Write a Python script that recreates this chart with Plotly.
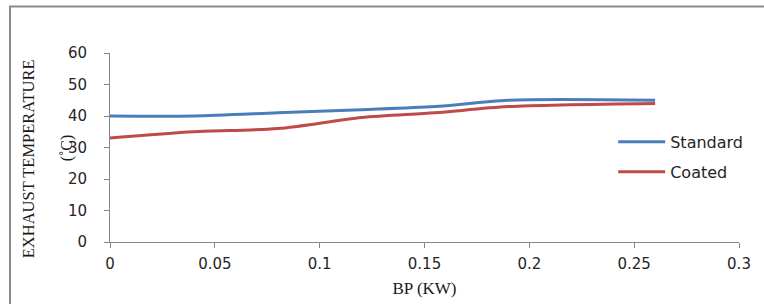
import plotly.graph_objects as go

bp_kw = [0, 0.04, 0.08, 0.12, 0.155, 0.19, 0.26]
standard = [40, 40, 41, 42, 43, 45, 45]
coated = [33, 35, 36, 39.5, 41, 43, 44]
x_ticks = [0, 0.05, 0.1, 0.15, 0.2, 0.25, 0.3]
y_ticks = [0, 10, 20, 30, 40, 50, 60]

fig = go.Figure()
fig.add_trace(go.Scatter(x=bp_kw, y=standard, name="Standard", mode="lines",
                         line=dict(color="#4A7EBB", width=3, shape="spline", smoothing=0.8),
                         legendgroup="a"))
fig.add_trace(go.Scatter(x=bp_kw, y=coated, name="Coated", mode="lines",
                         line=dict(color="#BE4B48", width=3, shape="spline", smoothing=0.8),
                         legendgroup="b"))

axis_col = "#868686"
fig.update_layout(
    width=764, height=304,
    margin=dict(l=110, r=25, t=53, b=62, autoexpand=False),
    paper_bgcolor="white", plot_bgcolor="white",
    font=dict(family="DejaVu Sans", size=15, color="#262626"),
    xaxis=dict(range=[0, 0.3], tickvals=x_ticks, ticktext=[str(v) for v in x_ticks],
               showgrid=False, zeroline=False, showline=True, linecolor=axis_col, linewidth=1,
               ticks="outside", ticklen=5, tickcolor=axis_col, ticklabelstandoff=3,
               automargin=False,
               title=dict(text="BP (KW)", font=dict(family="Liberation Serif", size=17, color="#1a1a1a"),
                          standoff=10)),
    yaxis=dict(range=[0, 60], tickvals=y_ticks, showgrid=False, zeroline=False,
               showline=True, linecolor=axis_col, linewidth=1, automargin=False,
               ticks="outside", ticklen=5, tickcolor=axis_col, ticklabelstandoff=14),
    showlegend=True,
    legend=dict(x=0.80, xanchor="left", y=0.45, yanchor="middle", itemwidth=47,
                font=dict(family="DejaVu Sans", size=16, color="#262626"),
                traceorder="grouped", tracegroupgap=6, bgcolor="rgba(0,0,0,0)"),
    shapes=[dict(type="rect", xref="paper", yref="paper", x0=-0.159, x1=1.2, y0=-0.5, y1=1.246,
                 line=dict(color="#8c8c8c", width=2), fillcolor="rgba(0,0,0,0)", layer="below")],
    annotations=[
        dict(text="EXHAUST TEMPERATURE", xref="paper", yref="paper", x=-0.130, y=0.439,
             textangle=-90, showarrow=False, xanchor="center", yanchor="middle",
             font=dict(family="Liberation Serif", size=16.5, color="#1a1a1a")),
        dict(text="(˚C)", xref="paper", yref="paper", x=-0.068, y=0.497,
             textangle=-90, showarrow=False, xanchor="center", yanchor="middle",
             font=dict(family="Liberation Serif", size=16, color="#1a1a1a")),
    ],
)

fig.write_html("out.html", config={"displayModeBar": False},
               post_script="document.body.style.margin='0';")
